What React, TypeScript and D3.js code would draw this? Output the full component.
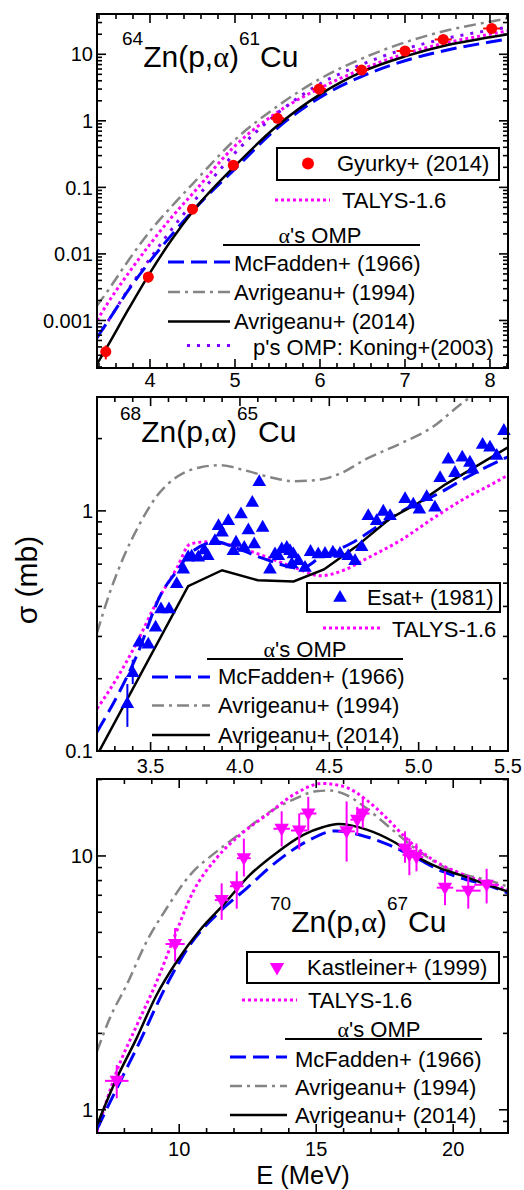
import React from 'react';
import * as d3 from 'd3';

const FONT = '"Liberation Sans", Arial, Helvetica, sans-serif';
const SERIF = '"Liberation Serif", "Times New Roman", serif';

// ---------------- Panel 1: 64Zn(p,a)61Cu ----------------
const p1Grid = [3.376, 3.5, 3.75, 4.0, 4.25, 4.5, 5.0, 5.5, 6.0, 6.5, 7.0, 7.5, 8.0, 8.21];
const p1McFadden = [5.5e-4, 9.5e-4, 0.0029, 0.0078, 0.019, 0.044, 0.19, 0.78, 2.25, 4.7, 8.0, 11.6, 15.3, 17.0];
const p1Avr1994 = [0.00166, 0.00275, 0.0081, 0.022, 0.051, 0.112, 0.52, 1.66, 4.27, 8.7, 15.1, 22.9, 30.9, 34.7];
const p1Avr2014 = [2.2e-4, 4.1e-4, 0.0015, 0.0052, 0.016, 0.043, 0.21, 0.85, 2.5, 5.5, 9.3, 13.8, 18.0, 20.0];
const p1Talys = [0.001, 0.0018, 0.0052, 0.014, 0.035, 0.08, 0.42, 1.35, 3.1, 6.0, 10.2, 15.0, 20.0, 22.5];
const p1Koning = [5.5e-4, 9.5e-4, 0.003, 0.0085, 0.023, 0.058, 0.33, 1.3, 3.6, 7.1, 12.0, 17.5, 23.0, 25.5];
const gyurkyE = [3.48, 3.98, 4.5, 4.98, 5.5, 5.99, 6.49, 7.0, 7.45, 8.02];
const gyurkyV = [3.4e-4, 0.0045, 0.047, 0.215, 1.09, 3.0, 5.8, 11.2, 16.7, 24.4];
const gyurkyErr = [8e-5, 8e-4, 0.007, 0.025, 0.12, 0.35, 0.6, 1.2, 1.7, 2.5];
const gyurkyDE = [0.06, 0.06, 0.06, 0.06, 0.08, 0.08, 0.08, 0.1, 0.1, 0.1];
const p1XTicks = [4, 5, 6, 7, 8];
const p1YTicks = [0.001, 0.01, 0.1, 1, 10];
const p1YLabels = ['0.001', '0.01', '0.1', '1', '10'];

// ---------------- Panel 2: 68Zn(p,a)65Cu ----------------
const p2Avr2014E = [3.2, 3.71, 3.9, 4.1, 4.3, 4.47, 4.65, 4.84, 5.0, 5.15, 5.3, 5.5];
const p2Avr2014V = [0.096, 0.486, 0.566, 0.514, 0.508, 0.57, 0.71, 0.93, 1.08, 1.29, 1.5, 1.84];
const p2McFaddenE = [3.2, 3.33, 3.42, 3.56, 3.65, 3.72, 3.87, 3.96, 4.13, 4.28, 4.34, 4.45, 4.62, 4.78, 4.95, 5.1, 5.3, 5.5];
const p2McFaddenV = [0.12, 0.179, 0.247, 0.453, 0.566, 0.664, 0.743, 0.708, 0.634, 0.584, 0.575, 0.64, 0.731, 0.87, 1.04, 1.17, 1.42, 1.68];
const p2TalysE = [3.2, 3.31, 3.42, 3.53, 3.65, 3.72, 3.81, 3.91, 4.04, 4.17, 4.32, 4.45, 4.58, 4.71, 4.9, 5.08, 5.27, 5.4, 5.5];
const p2TalysV = [0.15, 0.2, 0.28, 0.411, 0.584, 0.727, 0.743, 0.731, 0.686, 0.634, 0.575, 0.537, 0.566, 0.634, 0.755, 0.93, 1.14, 1.28, 1.41];
const p2Avr1994E = [3.2, 3.27, 3.35, 3.44, 3.53, 3.65, 3.78, 3.89, 4.02, 4.17, 4.3, 4.45, 4.56, 4.71, 4.9, 5.08, 5.23, 5.4, 5.5];
const p2Avr1994V = [0.31, 0.453, 0.645, 0.885, 1.14, 1.39, 1.52, 1.55, 1.48, 1.38, 1.33, 1.35, 1.43, 1.65, 1.91, 2.24, 2.76, 3.4, 3.8];
const esatE = [3.37, 3.4, 3.437, 3.487, 3.528, 3.558, 3.603, 3.646, 3.683, 3.71, 3.73, 3.767, 3.8, 3.82, 3.86, 3.88, 3.9, 3.935, 3.963, 3.978, 4.006, 4.024, 4.047, 4.069, 4.08, 4.108, 4.127, 4.168, 4.196, 4.215, 4.234, 4.262, 4.28, 4.29, 4.299, 4.327, 4.364, 4.395, 4.438, 4.476, 4.52, 4.56, 4.606, 4.644, 4.681, 4.718, 4.765, 4.802, 4.84, 4.924, 4.97, 5.004, 5.045, 5.091, 5.12, 5.166, 5.203, 5.244, 5.287, 5.302, 5.358, 5.399, 5.437, 5.477];
const esatV = [0.158, 0.213, 0.285, 0.28, 0.329, 0.392, 0.392, 0.5, 0.575, 0.645, 0.65, 0.645, 0.69, 0.654, 0.755, 0.871, 0.818, 0.914, 0.686, 0.743, 0.975, 0.708, 0.836, 1.09, 0.731, 1.33, 0.858, 0.575, 0.664, 0.654, 0.697, 0.708, 0.686, 0.604, 0.664, 0.623, 0.584, 0.68, 0.664, 0.667, 0.675, 0.668, 0.654, 0.623, 0.713, 0.96, 0.915, 1.0, 0.96, 1.13, 1.07, 1.02, 1.15, 1.04, 1.38, 1.65, 1.45, 1.68, 1.6, 1.5, 1.9, 1.85, 1.71, 2.17];
const esatErrE = [3.37, 3.4];
const esatErrLo = [0.126, 0.19];
const esatErrHi = [0.19, 0.24];
const p2XTicks = [3.5, 4.0, 4.5, 5.0, 5.5];
const p2YTicks = [0.1, 1];
const p2YLabels = ['0.1', '1'];

// ---------------- Panel 3: 70Zn(p,a)67Cu ----------------
const p3Avr2014E = [7, 7.72, 8.39, 9.18, 9.91, 10.76, 11.61, 12.58, 13.56, 14.53, 15.26, 15.8, 16.84, 17.81, 18.66, 19.52, 20.25, 21.1, 22];
const p3Avr2014V = [0.87, 1.33, 1.86, 2.84, 3.84, 5.11, 6.42, 8.42, 10.3, 12.1, 13.0, 13.35, 12.7, 11.4, 9.94, 8.95, 8.42, 7.8, 7.24];
const p3McFaddenE = [7, 7.96, 8.45, 9.54, 10.39, 11.36, 12.46, 13.56, 14.65, 15.7, 16.6, 17.7, 18.66, 19.64, 20.49, 21.22, 22];
const p3McFaddenV = [0.84, 1.37, 1.75, 3.1, 4.46, 5.86, 7.46, 9.5, 11.4, 12.55, 12.1, 11.0, 9.8, 8.67, 8.05, 7.7, 7.13];
const p3Avr1994E = [7, 7.47, 8.08, 8.81, 9.54, 10.39, 11.36, 12.34, 13.3, 14.28, 15.0, 15.5, 15.99, 16.84, 17.7, 18.66, 19.64, 20.49, 21.22, 22];
const p3Avr1994V = [1.7, 2.3, 3.1, 4.6, 6.22, 8.4, 10.4, 12.5, 14.9, 16.9, 18.0, 18.1, 17.6, 15.4, 12.9, 10.6, 9.08, 8.4, 8.05, 7.57];
const p3TalysE = [7, 7.72, 8.45, 9.18, 9.79, 10.51, 11.36, 12.22, 13.19, 14.28, 15.2, 15.99, 16.84, 17.57, 18.3, 19.27, 20.25, 21.1, 22];
const p3TalysV = [0.82, 1.42, 2.15, 3.2, 4.7, 7.23, 9.8, 12.1, 14.5, 17.7, 19.3, 18.8, 16.6, 14.1, 11.7, 9.64, 8.55, 7.92, 7.35];
const kastE = [7.72, 9.85, 11.55, 12.1, 12.36, 13.74, 14.38, 14.71, 16.11, 16.5, 16.7, 18.24, 18.4, 18.66, 19.7, 20.55, 21.22];
const kastV = [1.3, 4.5, 6.7, 7.6, 9.8, 12.8, 12.6, 14.7, 12.5, 13.9, 14.7, 10.7, 10.1, 9.9, 7.5, 7.3, 7.7];
const kastHi = [1.5, 5.2, 7.8, 8.7, 11.7, 15.0, 14.7, 17.1, 16.4, 15.6, 17.1, 12.5, 11.7, 11.2, 8.7, 8.3, 8.9];
const kastLo = [1.11, 3.84, 5.6, 6.2, 8.3, 10.9, 10.6, 12.6, 9.5, 12.1, 12.9, 9.4, 8.4, 8.7, 6.4, 6.2, 6.5];
const kastDE = [0.43, 0.35, 0.25, 0.25, 0.25, 0.3, 0.3, 0.3, 0.3, 0.25, 0.25, 0.25, 0.25, 0.25, 0.3, 0.45, 0.45];
const p3XTicks = [10, 15, 20];
const p3YTicks = [1, 10];
const p3YLabels = ['1', '10'];

// ---------------- layout ----------------
const L = 97;
const R = 508;
const LINE: Record<string, any> = {
  black: { stroke: '#000', strokeWidth: 2.5 },
  blue: { stroke: '#0000ff', strokeWidth: 3, strokeDasharray: '16 7' },
  gray: { stroke: '#858585', strokeWidth: 2.5, strokeDasharray: '12 5 3 5' },
  magenta: { stroke: '#ff00ff', strokeWidth: 3, strokeDasharray: '3 3' },
  purple: { stroke: '#8000ff', strokeWidth: 3, strokeDasharray: '3 7' },
};

const x1 = d3.scaleLinear().domain([3.3765, 8.212]).range([L, R]);
const y1 = d3.scaleLog().domain([1.93e-4, 40.3]).range([368, 14]);
const x2 = d3.scaleLinear().domain([3.2, 5.5]).range([L, R]);
const y2 = d3.scaleLog().domain([0.1, 2.98]).range([751, 397]);
const x3 = d3.scaleLinear().domain([7, 22]).range([L, R]);
const y3 = d3.scaleLog().domain([0.81, 20.1]).range([1133, 779]);

function pathOf(xs: any, ys: any, E: number[], V: number[], curve: any = d3.curveMonotoneX) {
  const pts: [number, number][] = E.map((e, i) => [e, V[i]]);
  return d3.line<[number, number]>().x((d) => xs(d[0])).y((d) => ys(d[1])).curve(curve)(pts) || '';
}

function logMinor(ys: any) {
  const [a, b] = ys.domain();
  const out: number[] = [];
  for (let d = Math.floor(Math.log10(a)); d <= Math.ceil(Math.log10(b)); d++) {
    for (let k = 2; k <= 9; k++) {
      const v = k * Math.pow(10, d);
      if (v >= a && v <= b) out.push(v);
    }
  }
  return out;
}

function Axes(props: {
  xs: any; ys: any; xMajor: number[]; xMinor: number[]; yMajor: number[]; yLabels: string[];
  xLabels: string[]; xLabelY: number; id: string;
}) {
  const { xs, ys, xMajor, xMinor, yMajor, yLabels, xLabels, xLabelY, id } = props;
  const [bottom, top] = ys.range();
  const yMinor = logMinor(ys);
  const el: any[] = [];
  const tk = (k: string, x1_: number, y1_: number, x2_: number, y2_: number) =>
    el.push(<line key={id + k} x1={x1_} y1={y1_} x2={x2_} y2={y2_} stroke="#000" strokeWidth={1.6} />);
  xMajor.forEach((v, i) => {
    const p = xs(v);
    tk('xM' + i, p, bottom, p, bottom - 9);
    tk('xMt' + i, p, top, p, top + 9);
  });
  xMinor.forEach((v, i) => {
    const p = xs(v);
    tk('xm' + i, p, bottom, p, bottom - 5);
    tk('xmt' + i, p, top, p, top + 5);
  });
  yMajor.forEach((v, i) => {
    const p = ys(v);
    tk('yM' + i, L, p, L + 9, p);
    tk('yMr' + i, R, p, R - 9, p);
  });
  yMinor.forEach((v, i) => {
    const p = ys(v);
    tk('ym' + i, L, p, L + 5, p);
    tk('ymr' + i, R, p, R - 5, p);
  });
  yMajor.forEach((v, i) =>
    el.push(
      <text key={id + 'yl' + i} x={L - 4} y={ys(v)} dy="0.36em" textAnchor="end" fontSize={20}>
        {yLabels[i]}
      </text>
    )
  );
  xMajor.forEach((v, i) =>
    el.push(
      <text key={id + 'xl' + i} x={xs(v)} y={xLabelY} textAnchor="middle" fontSize={20}>
        {xLabels[i]}
      </text>
    )
  );
  el.push(
    <rect key={id + 'frame'} x={L} y={top} width={R - L} height={bottom - top} fill="none" stroke="#000" strokeWidth={2} />
  );
  return <g>{el}</g>;
}

function Title(props: { x: number; y: number; a: string; b: string }) {
  const { x, y, a, b } = props;
  return (
    <text x={x} y={y} fontSize={30}>
      <tspan fontSize={19} dy={-22}>{a}</tspan>
      <tspan dy={22}>Zn(p,</tspan>
      <tspan fontFamily={SERIF}>α</tspan>
      <tspan>)</tspan>
      <tspan fontSize={19} dy={-22}>{b}</tspan>
      <tspan dy={22}>Cu</tspan>
    </text>
  );
}

function LegLine(props: { x1: number; x2: number; y: number; s: string }) {
  return <line x1={props.x1} x2={props.x2} y1={props.y} y2={props.y} fill="none" {...LINE[props.s]} />;
}

function LegText(props: { x: number; y: number; t: string; anchor?: string }) {
  return (
    <text x={props.x} y={props.y} fontSize={22} textAnchor={props.anchor || 'start'}>
      {props.t}
    </text>
  );
}

function OMP(props: { cx: number; y: number; x1: number; x2: number }) {
  return (
    <g>
      <text x={props.cx} y={props.y} fontSize={22} textAnchor="middle">
        <tspan fontFamily={SERIF}>α</tspan>'s OMP
      </text>
      <line x1={props.x1} x2={props.x2} y1={props.y + 2} y2={props.y + 2} stroke="#000" strokeWidth={2} />
    </g>
  );
}

const triUp = (cx: number, cy: number) => `M${cx},${cy - 7}L${cx + 6.8},${cy + 4.8}L${cx - 6.8},${cy + 4.8}Z`;
const triDown = (cx: number, cy: number) => `M${cx},${cy + 7.5}L${cx + 7.2},${cy - 5}L${cx - 7.2},${cy - 5}Z`;

const range = (a: number, b: number) => d3.range(a, b + 1);
const p1XMinor = range(17, 41).filter((i) => i % 5 !== 0).map((i) => i * 0.2);
const p2XMinor = range(32, 55).filter((i) => i % 5 !== 0).map((i) => i * 0.1);
const p3XMinor = range(7, 22).filter((i) => i % 5 !== 0);

export default function App() {
  return (
    <svg
      width={524}
      height={1190}
      style={{ position: 'absolute', left: 0, top: 0, background: '#fff' }}
      fontFamily={FONT}
    >
      <defs>
        <clipPath id="c1"><rect x={L} y={14} width={R - L} height={354} /></clipPath>
        <clipPath id="c2"><rect x={L} y={397} width={R - L} height={354} /></clipPath>
        <clipPath id="c3"><rect x={L} y={779} width={R - L} height={354} /></clipPath>
      </defs>
      <rect width={524} height={1190} fill="#fff" />

      {/* ---------- Panel 1 ---------- */}
      <g clipPath="url(#c1)" fill="none">
        <path d={pathOf(x1, y1, p1Grid, p1Avr1994)} {...LINE.gray} />
        <path d={pathOf(x1, y1, p1Grid, p1Talys)} {...LINE.magenta} />
        <path d={pathOf(x1, y1, p1Grid, p1Koning)} {...LINE.purple} />
        <path d={pathOf(x1, y1, p1Grid, p1McFadden)} {...LINE.blue} />
        <path d={pathOf(x1, y1, p1Grid, p1Avr2014)} {...LINE.black} />
      </g>
      <g>
        {gyurkyE.map((e, i) => (
          <g key={'g' + i} stroke="#ff0000" strokeWidth={2}>
            <line x1={x1(e)} x2={x1(e)} y1={y1(gyurkyV[i] - gyurkyErr[i])} y2={y1(gyurkyV[i] + gyurkyErr[i])} />
            <line x1={x1(e - gyurkyDE[i])} x2={x1(e + gyurkyDE[i])} y1={y1(gyurkyV[i])} y2={y1(gyurkyV[i])} />
            <circle cx={x1(e)} cy={y1(gyurkyV[i])} r={5.5} fill="#ff0000" stroke="none" />
          </g>
        ))}
      </g>
      <Axes xs={x1} ys={y1} xMajor={p1XTicks} xMinor={p1XMinor} yMajor={p1YTicks} yLabels={p1YLabels}
        xLabels={p1XTicks.map(String)} xLabelY={387} id="a1" />
      <Title x={122} y={67} a="64" b="61" />
      <rect x={277} y={148} width={222} height={32} fill="#fff" stroke="#000" strokeWidth={2} />
      <circle cx={308} cy={163.5} r={6} fill="#ff0000" />
      <LegText x={337} y={171} t="Gyurky+ (2014)" />
      <LegLine x1={275} x2={330} y={200} s="magenta" />
      <LegText x={342} y={208} t="TALYS-1.6" />
      <OMP cx={320} y={243} x1={223} x2={420} />
      <LegLine x1={168} x2={230} y={262} s="blue" />
      <LegText x={234} y={271} t="McFadden+ (1966)" />
      <LegLine x1={168} x2={230} y={292} s="gray" />
      <LegText x={234} y={300} t="Avrigeanu+ (1994)" />
      <LegLine x1={168} x2={230} y={321.5} s="black" />
      <LegText x={234} y={329} t="Avrigeanu+ (2014)" />
      <LegLine x1={187} x2={235} y={345.5} s="purple" />
      <LegText x={253} y={355} t="p's OMP: Koning+(2003)" />

      {/* ---------- Panel 2 ---------- */}
      <g clipPath="url(#c2)" fill="none">
        <path d={pathOf(x2, y2, p2Avr1994E, p2Avr1994V)} {...LINE.gray} />
        <path d={pathOf(x2, y2, p2TalysE, p2TalysV)} {...LINE.magenta} />
        <path d={pathOf(x2, y2, p2McFaddenE, p2McFaddenV)} {...LINE.blue} />
        <path d={pathOf(x2, y2, p2Avr2014E, p2Avr2014V, d3.curveLinear)} {...LINE.black} />
      </g>
      <g>
        {esatErrE.map((e, i) => (
          <line key={'ee' + i} x1={x2(e)} x2={x2(e)} y1={y2(esatErrLo[i])} y2={y2(esatErrHi[i])} stroke="#0000ff" strokeWidth={2} />
        ))}
        {esatE.map((e, i) => (
          <path key={'es' + i} d={triUp(x2(e), y2(esatV[i]))} fill="#0000ff" />
        ))}
      </g>
      <Axes xs={x2} ys={y2} xMajor={p2XTicks} xMinor={p2XMinor} yMajor={p2YTicks} yLabels={p2YLabels}
        xLabels={p2XTicks.map((v) => v.toFixed(1))} xLabelY={773} id="a2" />
      <Title x={120} y={441.5} a="68" b="65" />
      <rect x={307} y={583} width={193} height={29} fill="#fff" stroke="#000" strokeWidth={2} />
      <path d={triUp(340, 597)} fill="#0000ff" />
      <LegText x={367} y={605} t="Esat+ (1981)" />
      <LegLine x1={323} x2={380} y={628} s="magenta" />
      <LegText x={392} y={637} t="TALYS-1.6" />
      <OMP cx={305} y={657} x1={207} x2={403} />
      <LegLine x1={152} x2={210} y={677} s="blue" />
      <LegText x={218} y={684} t="McFadden+ (1966)" />
      <LegLine x1={152} x2={210} y={705.5} s="gray" />
      <LegText x={218} y={713} t="Avrigeanu+ (1994)" />
      <LegLine x1={152} x2={210} y={735} s="black" />
      <LegText x={218} y={742.5} t="Avrigeanu+ (2014)" />

      {/* ---------- Panel 3 ---------- */}
      <g clipPath="url(#c3)" fill="none">
        <path d={pathOf(x3, y3, p3Avr1994E, p3Avr1994V)} {...LINE.gray} />
        <path d={pathOf(x3, y3, p3TalysE, p3TalysV)} {...LINE.magenta} />
        <path d={pathOf(x3, y3, p3McFaddenE, p3McFaddenV)} {...LINE.blue} />
        <path d={pathOf(x3, y3, p3Avr2014E, p3Avr2014V)} {...LINE.black} />
      </g>
      <g>
        {kastE.map((e, i) => (
          <g key={'k' + i} stroke="#ff00ff" strokeWidth={2}>
            <line x1={x3(e)} x2={x3(e)} y1={y3(kastLo[i])} y2={y3(kastHi[i])} />
            <line x1={x3(e - kastDE[i])} x2={x3(e + kastDE[i])} y1={y3(kastV[i])} y2={y3(kastV[i])} />
            <path d={triDown(x3(e), y3(kastV[i]))} fill="#ff00ff" stroke="none" />
          </g>
        ))}
      </g>
      <Axes xs={x3} ys={y3} xMajor={p3XTicks} xMinor={p3XMinor} yMajor={p3YTicks} yLabels={p3YLabels}
        xLabels={p3XTicks.map(String)} xLabelY={1155.5} id="a3" />
      <Title x={270} y={931.5} a="70" b="67" />
      <rect x={247} y={952} width={252} height={31} fill="#fff" stroke="#000" strokeWidth={2} />
      <path d={triDown(277, 968)} fill="#ff00ff" />
      <LegText x={307} y={975} t="Kastleiner+ (1999)" />
      <LegLine x1={242} x2={297} y={1000} s="magenta" />
      <LegText x={308} y={1008} t="TALYS-1.6" />
      <OMP cx={379} y={1037} x1={285} x2={482} />
      <LegLine x1={230} x2={287} y={1057} s="blue" />
      <LegText x={295} y={1067} t="McFadden+ (1966)" />
      <LegLine x1={230} x2={287} y={1086} s="gray" />
      <LegText x={295} y={1095} t="Avrigeanu+ (1994)" />
      <LegLine x1={230} x2={287} y={1115} s="black" />
      <LegText x={295} y={1123} t="Avrigeanu+ (2014)" />

      {/* ---------- axis titles ---------- */}
      <text x={303} y={1184} textAnchor="middle" fontSize={25.5}>E (MeV)</text>
      <text transform="translate(37,580) rotate(-90)" textAnchor="middle" fontSize={30}>σ (mb)</text>
    </svg>
  );
}
